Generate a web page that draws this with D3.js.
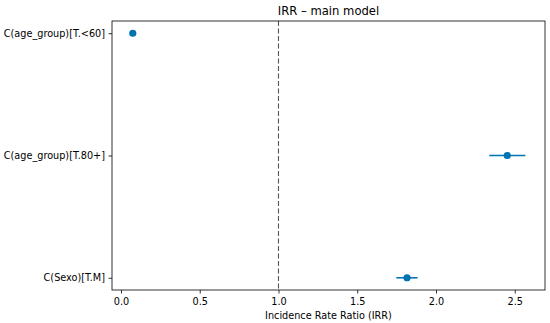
<!DOCTYPE html>
<html>
  <head>
    <meta charset="utf-8" />
    <style>
      body {
        margin: 0;
        background: white;
      }
      svg text {
        font-family: "DejaVu Sans", sans-serif;
        fill: black;
      }
    </style>
  </head>
  <body>
    <svg width="550" height="323"></svg>

    <script src="https://d3js.org/d3.v7.min.js"></script>
    <script>
      // model terms, top to bottom
      let terms = ["C(age_group)[T.<60]", "C(age_group)[T.80+]", "C(Sexo)[T.M]"];
      let irr = [0.075, 2.452, 1.816];
      let ciLow = [0.068, 2.338, 1.748];
      let ciHigh = [0.082, 2.567, 1.883];
      let xTicks = [0, 0.5, 1, 1.5, 2, 2.5];
      let refLine = 1;

      let width = 550;
      let height = 323;
      let margin = { top: 21, right: 5, bottom: 33, left: 112 };

      let svg = d3.select("svg");
      let color = "#0173b2";

      let rows = terms.map((t, i) => ({
        term: t,
        irr: irr[i],
        lo: ciLow[i],
        hi: ciHigh[i],
      }));

      // matplotlib-like 5% margins
      let lo = d3.min([...ciLow, refLine]);
      let hi = d3.max([...ciHigh, refLine]);
      let pad = (hi - lo) * 0.05;

      let x = d3
        .scaleLinear()
        .domain([lo - pad, hi + pad])
        .range([margin.left, width - margin.right]);

      let y = d3
        .scaleLinear()
        .domain([-0.1, terms.length - 1 + 0.1])
        .range([margin.top, height - margin.bottom]);

      let plot = svg.append("g");

      // reference line
      plot
        .append("line")
        .attr("x1", x(refLine))
        .attr("x2", x(refLine))
        .attr("y1", margin.top)
        .attr("y2", height - margin.bottom)
        .attr("stroke", "#555")
        .attr("stroke-width", 1.1)
        .attr("stroke-dasharray", "5,2.5");

      // error bars
      plot
        .selectAll(".ci")
        .data(rows)
        .join("line")
        .attr("class", "ci")
        .attr("x1", (d) => x(d.lo))
        .attr("x2", (d) => x(d.hi))
        .attr("y1", (d, i) => y(i))
        .attr("y2", (d, i) => y(i))
        .attr("stroke", color)
        .attr("stroke-width", 1.6);

      plot
        .selectAll(".pt")
        .data(rows)
        .join("circle")
        .attr("class", "pt")
        .attr("cx", (d) => x(d.irr))
        .attr("cy", (d, i) => y(i))
        .attr("r", 3.6)
        .attr("fill", color);

      // axes
      let xAxis = svg
        .append("g")
        .attr("transform", `translate(0, ${height - margin.bottom})`)
        .call(
          d3
            .axisBottom(x)
            .tickValues(xTicks)
            .tickFormat(d3.format(".1f"))
            .tickSize(3.5)
            .tickPadding(4.5)
            .tickSizeOuter(0)
        );

      let yAxis = svg
        .append("g")
        .attr("transform", `translate(${margin.left}, 0)`)
        .call(
          d3
            .axisLeft(y)
            .tickValues(d3.range(terms.length))
            .tickFormat((i) => terms[i])
            .tickSize(3.5)
            .tickPadding(3.5)
            .tickSizeOuter(0)
        );

      [xAxis, yAxis].forEach((g) => {
        g.select(".domain").remove();
        g.selectAll(".tick line").attr("stroke", "#000").attr("stroke-width", 0.8);
        g.selectAll(".tick text")
          .attr("font-size", 9.7)
          .style("font-family", "DejaVu Sans, sans-serif");
      });

      // frame
      svg
        .append("rect")
        .attr("x", margin.left)
        .attr("y", margin.top)
        .attr("width", width - margin.left - margin.right)
        .attr("height", height - margin.top - margin.bottom)
        .attr("fill", "none")
        .attr("stroke", "#000")
        .attr("stroke-width", 0.8);

      svg
        .append("text")
        .attr("x", (margin.left + width - margin.right) / 2)
        .attr("y", 15)
        .attr("text-anchor", "middle")
        .attr("font-size", 11.6)
        .text("IRR \u2013 main model");

      svg
        .append("text")
        .attr("x", (margin.left + width - margin.right) / 2)
        .attr("y", height - 4)
        .attr("text-anchor", "middle")
        .attr("font-size", 9.7)
        .text("Incidence Rate Ratio (IRR)");
    </script>
  </body>
</html>
